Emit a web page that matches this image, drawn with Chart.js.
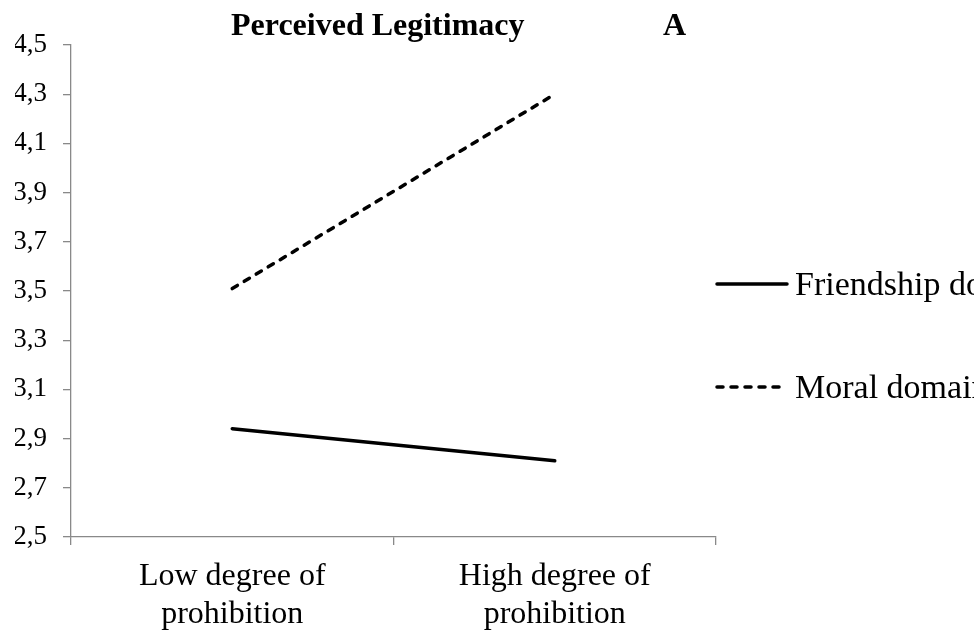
<!DOCTYPE html>
<html>
<head>
<meta charset="utf-8">
<script src="https://cdn.jsdelivr.net/npm/chart.js@4"></script>
<style>
  html, body { margin: 0; padding: 0; background: #fff; overflow: hidden; }
  #wrap { width: 974px; height: 638px; }
</style>
</head>
<body>
<div id="wrap"><canvas id="chart" width="974" height="638"></canvas></div>
<script>
const categories = [['Low degree of', 'prohibition'], ['High degree of', 'prohibition']];
const friendshipValues = [2.94, 2.81];
const moralValues = [3.51, 4.30];
const seriesLabels = ['Friendship domain', 'Moral domain'];
const chartTitle = 'Perceived Legitimacy';
const panelLetter = 'A';
const yMin = 2.5, yMax = 4.5, yStep = 0.2;

const SERIF = "'Liberation Serif', 'Times New Roman', serif";
const AXIS_GRAY = '#898989';

// title and panel letter above the plot
const panelTitle = {
  id: 'panelTitle',
  afterDraw(chart) {
    const ctx = chart.ctx;
    ctx.save();
    ctx.fillStyle = '#000';
    ctx.font = `bold 32px ${SERIF}`;
    ctx.textBaseline = 'alphabetic';
    ctx.textAlign = 'left';
    ctx.fillText(chartTitle, 231, 35);
    ctx.fillText(panelLetter, 663, 35);
    ctx.restore();
  }
};

// legend to the right of the plot, runs off the edge like the original
const sideLegend = {
  id: 'sideLegend',
  afterDraw(chart) {
    const ctx = chart.ctx;
    const area = chart.chartArea;
    const x0 = area.right + 1;
    const rows = [area.top + 239, area.top + 342];
    ctx.save();
    ctx.font = `34px ${SERIF}`;
    ctx.textBaseline = 'middle';
    ctx.textAlign = 'left';
    chart.data.datasets.forEach((ds, i) => {
      const y = rows[i];
      ctx.beginPath();
      ctx.setLineDash(ds.borderDash || []);
      ctx.lineWidth = ds.borderWidth;
      ctx.lineCap = ds.borderCapStyle || 'butt';
      ctx.strokeStyle = ds.borderColor;
      ctx.moveTo(x0, y);
      ctx.lineTo(x0 + 70, y);
      ctx.stroke();
      ctx.setLineDash([]);
      ctx.fillStyle = '#000';
      ctx.fillText(ds.label, x0 + 78, y + 2);
    });
    ctx.restore();
  }
};

new Chart(document.getElementById('chart'), {
  type: 'line',
  data: {
    labels: categories,
    datasets: [
      {
        label: seriesLabels[0],
        data: friendshipValues,
        borderColor: '#000',
        borderWidth: 3.5,
        borderCapStyle: 'round',
        pointRadius: 0,
        fill: false,
      },
      {
        label: seriesLabels[1],
        data: moralValues,
        borderColor: '#000',
        borderWidth: 3.5,
        borderDash: [6, 8],
        borderCapStyle: 'round',
        pointRadius: 0,
        fill: false,
      },
    ],
  },
  options: {
    responsive: false,
    animation: false,
    events: [],
    layout: { padding: { left: 15, right: 258, top: 45, bottom: 0 } },
    plugins: {
      legend: { display: false },
      title: { display: false },
      tooltip: { enabled: false },
    },
    scales: {
      x: {
        type: 'category',
        offset: true,
        grid: {
          offset: true,
          drawOnChartArea: false,
          drawTicks: true,
          tickLength: 8,
          color: AXIS_GRAY,
          lineWidth: 1.3,
        },
        border: { display: true, color: AXIS_GRAY, width: 1.3 },
        ticks: {
          color: '#000',
          font: { family: SERIF, size: 32, lineHeight: 1.17 },
          padding: 13,
          maxRotation: 0,
          autoSkip: false,
        },
        afterFit(scale) { scale.height = 101; },
      },
      y: {
        min: yMin,
        max: yMax,
        grid: {
          drawOnChartArea: false,
          drawTicks: true,
          tickLength: 8,
          color: AXIS_GRAY,
          lineWidth: 1.3,
        },
        border: { display: true, color: AXIS_GRAY, width: 1.3 },
        ticks: {
          stepSize: yStep,
          color: '#000',
          font: { family: SERIF, size: 27 },
          padding: 16,
          callback: v => v.toFixed(1).replace('.', ','),
        },
        afterFit(scale) { scale.width = 56; },
      },
    },
  },
  plugins: [panelTitle, sideLegend],
});
</script>
</body>
</html>
